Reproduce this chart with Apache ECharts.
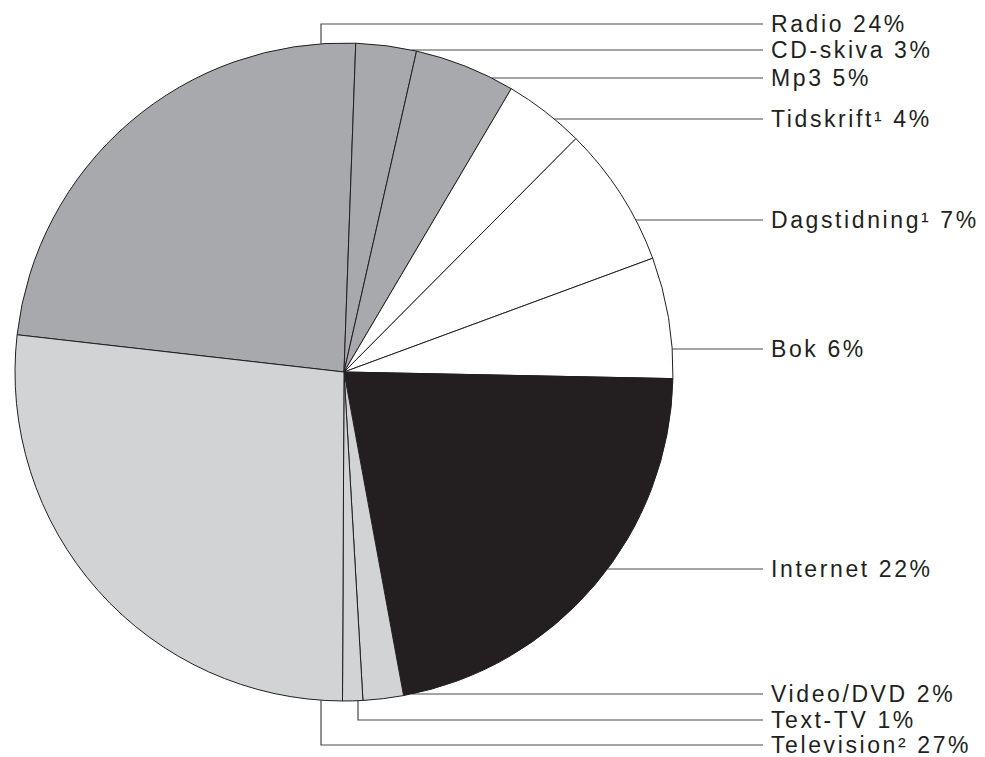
<!DOCTYPE html>
<html>
<head>
<meta charset="utf-8">
<script src="https://cdn.jsdelivr.net/npm/echarts@6/dist/echarts.min.js"></script>
<style>
  html, body { margin: 0; padding: 0; background: #ffffff; }
  #chart { width: 985px; height: 757px; }
  #chart text { letter-spacing: 2.6px; }
</style>
</head>
<body>
<div id="chart"></div>
<script>
// Media share, per cent
const categories = ['Radio', 'CD-skiva', 'Mp3', 'Tidskrift¹', 'Dagstidning¹', 'Bok', 'Internet', 'Video/DVD', 'Text-TV', 'Television²'];
const shares = [24, 3, 5, 4, 7, 6, 22, 2, 1, 27];

// Slice fills: sound media dark grey, print white, internet black, TV light grey
const sliceColors = ['#a7a9ac', '#a7a9ac', '#a7a9ac', '#ffffff', '#ffffff', '#ffffff', '#231f20', '#d1d3d4', '#d1d3d4', '#d1d3d4'];

// Pie geometry and the label column on the right
const CX = 344, CY = 372, R = 329;
const LINE_END = 763, TEXT_X = 771;
const labelRowY = [24, 50, 78, 119, 220, 349, 569, 694, 720, 745];
// x of a vertical leader leg (leaves the pie at top or bottom), null for straight leaders
const legX = [321, null, null, null, null, null, null, null, 358, 321];

const chart = echarts.init(document.getElementById('chart'), null, { renderer: 'svg' });

chart.setOption({
  backgroundColor: '#ffffff',
  animation: false,
  series: [{
    type: 'pie',
    center: [CX, CY],
    radius: R,
    startAngle: 173.5,   // Radio ends just right of twelve o'clock
    clockwise: true,
    avoidLabelOverlap: false,
    silent: true,
    itemStyle: { borderColor: '#231f20', borderWidth: 1 },
    emphasis: { disabled: true },
    label: {
      show: true,
      position: 'outside',
      color: '#231f20',
      fontFamily: '"Liberation Sans", Arial, Helvetica, sans-serif',
      fontSize: 23,
      lineHeight: 17,
      formatter: p => p.name + ' ' + p.value + '%'
    },
    labelLine: {
      show: true,
      smooth: false,
      lineStyle: { color: '#4a4a4a', width: 1.2 }
    },
    labelLayout: function (params) {
      const i = params.dataIndex;
      const y = labelRowY[i];
      let pts;
      if (legX[i] != null) {
        const x0 = legX[i];
        const h = Math.sqrt(R * R - (x0 - CX) * (x0 - CX));
        const y0 = y < CY ? CY - h : CY + h;
        pts = [[x0, y0], [x0, y], [LINE_END, y]];
      } else {
        const x0 = CX + Math.sqrt(R * R - (y - CY) * (y - CY));
        pts = [[x0, y], [LINE_END, y]];
      }
      return { x: TEXT_X, y: y, align: 'left', verticalAlign: 'middle', labelLinePoints: pts };
    },
    data: categories.map((name, i) => ({
      name: name,
      value: shares[i],
      itemStyle: { color: sliceColors[i] }
    }))
  }]
});
</script>
</body>
</html>
